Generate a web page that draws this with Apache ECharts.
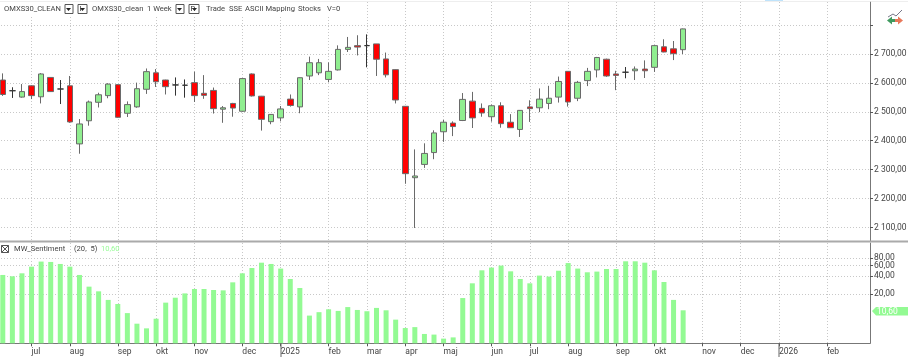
<!DOCTYPE html>
<html>
<head>
<meta charset="utf-8">
<style>
  html, body { margin: 0; padding: 0; background: #fff; }
  #chart { width: 908px; height: 357px; }
</style>
<script src="https://cdn.jsdelivr.net/npm/echarts@6/dist/echarts.min.js"></script>
</head>
<body>
<div id="chart"></div>
<script>
// weekly candles: open, close, low, high
const opens = [2610,2573,2551,2590,2552,2619,2579,2590,2389,2469,2533,2556,2594,2495,2517,2578,2635,2610,2593,2592,2601,2564,2574,2509,2529,2502,2631,2554,2466,2479,2544,2517,2624,2635,2612,2645,2716,2729,2729,2735,2683,2646,2519,2272,2318,2359,2431,2461,2470,2537,2512,2483,2521,2464,2439,2517,2514,2529,2551,2640,2547,2608,2645,2682,2631,2637,2642,2648,2654,2725,2718,2715];
const closes = [2560,2573,2570,2556,2631,2570,2579,2465,2458,2534,2559,2596,2481,2525,2580,2639,2604,2587,2593,2592,2556,2557,2511,2514,2513,2615,2555,2474,2491,2510,2522,2618,2670,2670,2640,2716,2723,2724,2729,2682,2628,2541,2286,2278,2356,2427,2464,2449,2543,2479,2496,2521,2459,2445,2505,2511,2544,2547,2605,2534,2602,2640,2688,2624,2626,2637,2648,2642,2729,2707,2701,2787];
const lows = [2555,2548,2549,2544,2529,2569,2527,2462,2355,2452,2515,2547,2479,2482,2514,2562,2586,2560,2556,2549,2534,2545,2494,2462,2483,2500,2553,2435,2457,2467,2518,2495,2610,2627,2602,2643,2707,2695,2654,2624,2619,2529,2251,2098,2306,2336,2396,2416,2468,2444,2483,2466,2445,2444,2413,2465,2499,2509,2532,2518,2537,2589,2619,2621,2575,2616,2610,2617,2638,2706,2679,2700];
const highs = [2633,2585,2596,2592,2634,2620,2610,2624,2475,2539,2566,2599,2596,2536,2601,2650,2648,2611,2619,2612,2639,2627,2584,2520,2531,2617,2633,2555,2492,2520,2560,2619,2691,2683,2671,2730,2759,2765,2768,2735,2705,2647,2520,2370,2391,2436,2472,2467,2565,2569,2529,2525,2533,2492,2506,2540,2581,2590,2622,2641,2607,2652,2690,2684,2642,2655,2657,2678,2731,2751,2745,2788];

// MW_Sentiment bars
const sentiment = [42.5,40,45.6,58,71,70,64.5,58,42.5,28.5,23.3,16.7,14.3,9.7,6.3,4.8,7.9,15.1,18,21,25.9,25.9,24.8,24.4,33.3,45.6,55.5,68,64.5,54.4,37,27,8.9,10,11.2,10.4,12.5,10.8,10.3,12,10.6,7.6,4.9,5.2,3,2.8,1.5,1.9,17.8,32.2,51.2,56.3,60,49.3,37,32.2,41.3,39.7,50.4,67,54.4,47.5,48.8,53.7,53.7,71.8,71.8,68,51.2,33.7,16.7,10.6];

// time axis, 91 weekly slots (72 filled, rest empty up to the price scale)
const slotCount = 91;
const monthSlots = [3,7,12,16,20,25,29,34,38,42,46,51,55,59,64,68,73,77,81,86];
const monthLabels = ['jul','aug','sep','okt','nov','dec','2025','feb','mar','apr','maj','jun','jul','aug','sep','okt','nov','dec','2026','feb'];

const priceTicks = [2100,2200,2300,2400,2500,2600,2700,2800];
const priceLabels = [2100,2200,2300,2400,2500,2600,2700];
const sentimentTicks = [20,40,60,80];

// the sentiment pane has a squeezed, non linear scale (value -> height in the pane)
const scaleValues = [0,10.6,20,40,60,80,100];
const scaleHeights = [0,33,49,67,77.7,85,100];
function sentimentPos(v) {
  for (let i = 1; i < scaleValues.length; i++) {
    if (v <= scaleValues[i]) {
      const t = (v - scaleValues[i - 1]) / (scaleValues[i] - scaleValues[i - 1]);
      return scaleHeights[i - 1] + t * (scaleHeights[i] - scaleHeights[i - 1]);
    }
  }
  return 100;
}

const categories = [];
for (let i = 0; i < slotCount; i++) categories.push(String(i));
const candles = opens.map((o, i) => [o, closes[i], lows[i], highs[i]]);
const isMonth = (index) => monthSlots.indexOf(index) >= 0;

const textColor = '#444';
const fontFamily = 'Roboto, "Noto Sans", sans-serif';
const gridLine = { show: true, interval: isMonth, alignWithLabel: true, lineStyle: { color: '#c8c8c8', type: [1, 2], width: 1 } };

const chart = echarts.init(document.getElementById('chart'), null, { renderer: 'canvas' });

// header strip, small buttons
function button(x, w, label) {
  const items = [
    { type: 'rect', shape: { x: x, y: 4.5, width: w, height: 9 }, style: { fill: '#fff', stroke: '#555', lineWidth: 1 }, z: 20 },
    { type: 'polygon', shape: { points: [[x + w - 7, 8], [x + w - 2, 8], [x + w - 4.5, 11]] }, style: { fill: '#222' }, z: 20 }
  ];
  if (label) items.push({ type: 'text', x: x + 1.5, y: 5, style: { text: label, fontSize: 7.6, fill: '#333', fontFamily: fontFamily }, z: 20 });
  return items;
}
function label(x, y, text, fill, size) {
  return { type: 'text', x: x, y: y, style: { text: text, fontSize: size || 7.6, fill: fill || textColor, fontFamily: fontFamily, textVerticalAlign: 'middle' }, z: 20 };
}

chart.setOption({
  animation: false,
  backgroundColor: '#fff',
  grid: [
    { left: -2, width: 872, top: 2, height: 239, outerBoundsMode: 'none' },
    { left: -2, width: 872, top: 243, height: 100.3, outerBoundsMode: 'none' }
  ],
  xAxis: [
    {
      type: 'category', gridIndex: 0, data: categories, boundaryGap: true,
      axisLine: { show: false }, axisTick: { show: false }, axisLabel: { show: false },
      splitLine: gridLine
    },
    {
      type: 'category', gridIndex: 1, data: categories, boundaryGap: true,
      axisLine: { show: true, lineStyle: { color: '#777', width: 1 } },
      axisTick: { show: true, interval: isMonth, alignWithLabel: true, length: 3, lineStyle: { color: '#555' } },
      axisLabel: {
        show: true, interval: isMonth, align: 'left', margin: 4, color: textColor, fontSize: 8.5, fontFamily: fontFamily,
        formatter: (v) => monthLabels[monthSlots.indexOf(Number(v))] || ''
      },
      splitLine: gridLine
    }
  ],
  yAxis: [
    {
      type: 'value', gridIndex: 0, position: 'right', min: 2053, max: 2880,
      axisLine: { show: true, lineStyle: { color: '#777', width: 1 } },
      axisTick: { show: true, length: 3, customValues: priceTicks, lineStyle: { color: '#555' } },
      axisLabel: {
        color: textColor, fontSize: 8.5, fontFamily: fontFamily, margin: 4, customValues: priceLabels,
        formatter: (v) => String(v).replace(/(\d)(\d{3})$/, '$1 $2') + ',00'
      },
      splitLine: { show: true, lineStyle: { color: '#c8c8c8', type: [1, 2], width: 1 } }
    },
    {
      type: 'value', gridIndex: 1, position: 'right', min: 0, max: 100.3,
      axisLine: { show: true, lineStyle: { color: '#777', width: 1 } },
      axisTick: { show: true, length: 3, customValues: sentimentTicks.map(sentimentPos), lineStyle: { color: '#555' } },
      // labels are too close for the axis overlap handling, placed below after setOption
      axisLabel: { show: false, customValues: sentimentTicks.map(sentimentPos) },
      splitLine: { show: true, lineStyle: { color: '#c8c8c8', type: [1, 2], width: 1 } }
    }
  ],
  series: [
    {
      name: 'OMXS30_CLEAN', type: 'candlestick', xAxisIndex: 0, yAxisIndex: 0,
      barWidth: 6, data: candles,
      itemStyle: {
        color: '#90ee90', color0: '#ff0000',
        borderColor: '#6a6a6a', borderColor0: '#6a6a6a', borderColorDoji: '#333', borderWidth: 1
      }
    },
    {
      name: 'MW_Sentiment', type: 'bar', xAxisIndex: 1, yAxisIndex: 1,
      barWidth: 5, data: sentiment.map(sentimentPos),
      itemStyle: { color: '#93fa93' }
    }
  ]
});

const sentimentLabels = sentimentTicks.map((t) =>
  label(874, chart.convertToPixel({ yAxisIndex: 1 }, sentimentPos(t)), t + ',00', textColor, 8.5)
);

chart.setOption({
  graphic: [
    { type: 'rect', shape: { x: 0, y: 0, width: 345, height: 15 }, style: { fill: '#fff' }, z: 10 },
    { type: 'rect', shape: { x: 0, y: 1, width: 908, height: 0.5 }, style: { fill: '#ddd' }, z: 11 },
    { type: 'rect', shape: { x: 765, y: 0, width: 18, height: 1 }, style: { fill: '#bfe3fb' }, z: 11 },
    label(4, 9, 'OMXS30_CLEAN'),
    ...button(65, 8),
    ...button(78, 9, 'I'),
    label(92, 9, 'OMXS30_clean'),
    label(147, 9, '1 Week'),
    ...button(176, 8),
    ...button(189, 10, 'R'),
    label(206, 9, 'Trade'),
    label(229, 9, 'SSE'),
    label(245, 9, 'ASCII Mapping'),
    label(298, 9, 'Stocks'),
    label(327, 9, 'V=0'),

    // separator between the panes
    { type: 'rect', shape: { x: 0, y: 240.5, width: 908, height: 2 }, style: { fill: '#aaa' }, z: 11 },

    // icon top right
    { type: 'polyline', shape: { points: [[888, 17], [893, 14], [896, 16], [902, 10]] }, style: { stroke: '#778', lineWidth: 1, fill: null }, z: 20 },
    { type: 'polygon', shape: { points: [[887, 20.5], [892, 16.5], [892, 19], [895, 19], [895, 22], [892, 22], [892, 24.5]] }, style: { fill: '#3f9a5f' }, z: 20 },
    { type: 'polygon', shape: { points: [[903, 20.5], [898, 16.5], [898, 19], [895, 19], [895, 22], [898, 22], [898, 24.5]] }, style: { fill: '#e8785a' }, z: 20 },

    // sentiment pane legend
    { type: 'rect', shape: { x: 1.5, y: 245.5, width: 7, height: 7 }, style: { fill: '#fff', stroke: '#555', lineWidth: 1 }, z: 20 },
    { type: 'polyline', shape: { points: [[1.5, 245.5], [8.5, 252.5]] }, style: { stroke: '#555', lineWidth: 1, fill: null }, z: 20 },
    { type: 'polyline', shape: { points: [[8.5, 245.5], [1.5, 252.5]] }, style: { stroke: '#555', lineWidth: 1, fill: null }, z: 20 },
    label(14, 249, 'MW_Sentiment'),
    label(74, 249, '(20,  5)'),
    label(101, 249, '10,60', '#98fb98'),
    ...sentimentLabels,

    // last value tag
    { type: 'polygon', shape: { points: [[872, 311], [876, 307], [908, 307], [908, 315.5], [876, 315.5]] }, style: { fill: '#93fa93' }, z: 20 },
    label(877, 311.5, '10,60', '#fff', 8.5),

    // year marks on the time axis
    { type: 'rect', shape: { x: 280.5, y: 343, width: 1, height: 14 }, style: { fill: '#666' }, z: 20 },
    { type: 'rect', shape: { x: 778.5, y: 343, width: 1, height: 14 }, style: { fill: '#666' }, z: 20 }
  ]
});
</script>
</body>
</html>
